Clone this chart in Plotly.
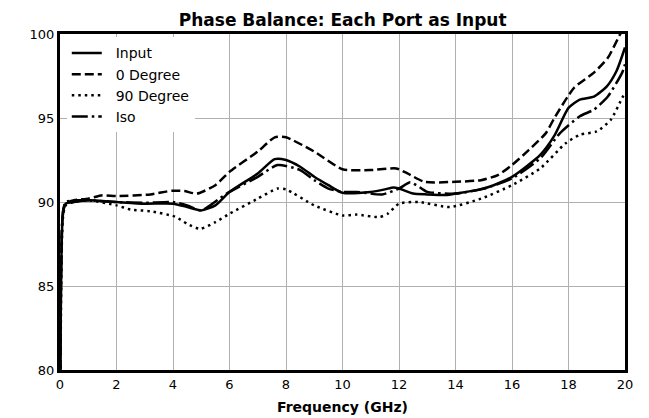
import plotly.graph_objects as go

freq_input = [0.0, 0.1, 0.2, 0.5, 1.0, 2.0, 3.0, 4.0, 4.5, 5.0, 5.5, 6.0, 7.0, 7.6, 8.0, 8.5, 9.0, 9.5, 10.0, 11.0, 11.5, 11.8, 12.0, 12.5, 13.0, 13.7, 14.0, 14.9, 15.5, 16.0, 16.5, 17.0, 17.5, 18.0, 18.4, 18.9, 19.35, 19.7, 20.0]
val_input = [70.0, 89.2, 89.9, 90.0, 90.1, 90.0, 89.9, 89.9, 89.7, 89.5, 89.8, 90.6, 91.7, 92.55, 92.5, 92.1, 91.5, 91.0, 90.55, 90.6, 90.75, 90.87, 90.8, 90.5, 90.45, 90.42, 90.5, 90.75, 91.1, 91.5, 92.1, 92.8, 93.95, 95.6, 96.1, 96.27, 96.87, 97.8, 99.2]

freq_0deg = [0.0, 0.1, 0.2, 0.5, 1.0, 1.5, 2.0, 3.2, 3.95, 4.4, 4.85, 5.5, 6.0, 7.0, 7.6, 8.0, 9.0, 10.0, 11.0, 11.9, 12.3, 12.9, 14.0, 14.9, 15.5, 16.0, 16.6, 17.2, 17.5, 18.2, 18.9, 19.4, 19.8, 20.0]
val_0deg = [70.0, 89.3, 89.9, 90.1, 90.2, 90.4, 90.35, 90.45, 90.67, 90.65, 90.5, 91.0, 91.8, 93.0, 93.85, 93.85, 93.0, 91.95, 91.9, 92.0, 91.7, 91.2, 91.2, 91.3, 91.6, 92.2, 93.1, 94.1, 95.0, 96.8, 97.7, 98.6, 99.9, 100.5]

freq_90deg = [0.0, 0.1, 0.2, 0.5, 1.0, 2.0, 2.5, 3.2, 4.07, 4.5, 4.96, 5.5, 6.0, 7.0, 7.7, 8.0, 9.0, 10.0, 10.5, 11.3, 11.6, 12.0, 12.7, 13.8, 14.9, 16.0, 17.0, 17.9, 18.4, 19.0, 19.5, 19.9, 20.0]
val_90deg = [65.0, 89.0, 89.8, 90.0, 90.1, 89.8, 89.55, 89.45, 89.13, 88.7, 88.4, 88.8, 89.3, 90.2, 90.8, 90.75, 89.8, 89.2, 89.25, 89.1, 89.3, 89.9, 90.0, 89.7, 90.2, 91.0, 92.0, 93.5, 94.0, 94.2, 94.9, 96.2, 96.5]

freq_iso = [0.0, 0.1, 0.2, 0.5, 1.0, 2.0, 3.0, 4.0, 4.5, 5.0, 5.9, 7.0, 7.7, 8.5, 9.0, 9.5, 10.0, 10.5, 11.4, 12.0, 12.4, 12.8, 13.0, 14.0, 15.0, 16.0, 17.0, 17.7, 18.4, 18.9, 19.4, 19.9, 20.0]
val_iso = [70.0, 89.4, 90.0, 90.1, 90.1, 90.0, 89.95, 90.0, 89.8, 89.5, 90.5, 91.5, 92.2, 91.9, 91.3, 90.8, 90.6, 90.6, 90.45, 90.8, 91.17, 90.8, 90.6, 90.5, 90.8, 91.4, 92.6, 94.1, 95.1, 95.5, 96.3, 97.7, 98.2]

series = [
    ("Input", freq_input, val_input, "solid"),
    ("0 Degree", freq_0deg, val_0deg, "9px,4px"),
    ("90 Degree", freq_90deg, val_90deg, "2.5px,4px"),
    ("Iso", freq_iso, val_iso, "16px,4px,2.5px,4px"),
]

x_ticks = [0, 2, 4, 6, 8, 10, 12, 14, 16, 18, 20]
y_ticks = [80, 85, 90, 95, 100]

fig = go.Figure()
for name, fx, fy, dash in series:
    fig.add_trace(go.Scatter(
        x=fx, y=fy, name="&nbsp;&nbsp;" + name, mode="lines",
        line=dict(color="black", width=2.5, dash=dash, shape="spline", smoothing=0.6),
    ))

font_family = "DejaVu Sans"
fig.update_layout(
    width=649, height=418,
    margin=dict(l=60, r=24, t=34, b=48, autoexpand=False),
    paper_bgcolor="white", plot_bgcolor="white",
    font=dict(family=font_family, size=13, color="black"),
    title=dict(text="<b>Phase Balance: Each Port as Input</b>", x=0.528, xanchor="center",
               y=0.952, yanchor="middle", font=dict(size=17, family=font_family)),
    legend=dict(x=0.012, y=0.99, xanchor="left", yanchor="top",
                bgcolor="white", borderwidth=0, font=dict(size=14),
                tracegroupgap=0, itemwidth=30),
    showlegend=True,
    annotations=[dict(text="<b>Frequency (GHz)</b>", xref="paper", yref="paper",
                      x=0.5, y=0, xanchor="center", yanchor="middle", yshift=-37,
                      showarrow=False, font=dict(size=14, family=font_family))],
)
fig.update_xaxes(
    range=[0, 20], tickvals=x_ticks, ticktext=[str(t) for t in x_ticks],
    showgrid=True, gridcolor="#b0b0b0", gridwidth=1,
    showline=True, linecolor="black", linewidth=3, mirror=True,
    zeroline=False, ticks="", tickfont=dict(size=13), automargin=False,
)
fig.update_yaxes(
    range=[80, 100], tickvals=y_ticks, ticktext=[str(t) for t in y_ticks],
    showgrid=True, gridcolor="#b0b0b0", gridwidth=1,
    showline=True, linecolor="black", linewidth=3, mirror=True,
    zeroline=False, ticks="", tickfont=dict(size=13), automargin=False,
)

fig.write_html("out.html")
